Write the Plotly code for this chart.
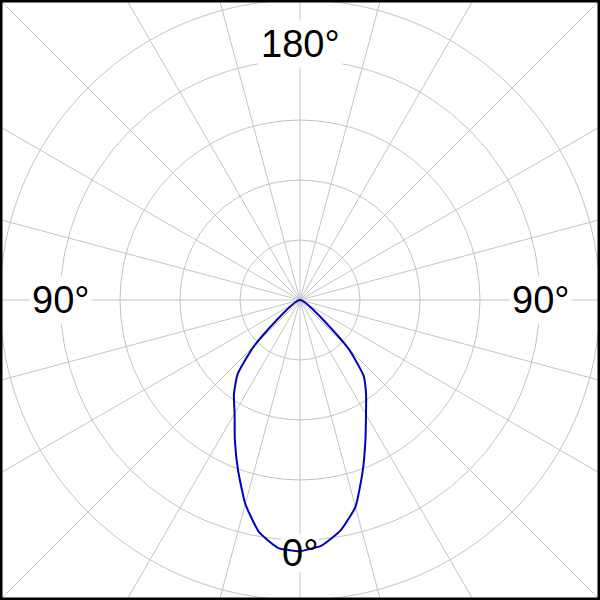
import math
import plotly.graph_objects as go

# Luminous intensity distribution (cd/klm)
gamma_deg = [0, 5, 10, 15, 20, 25, 30, 35, 40, 45, 50]
c0_plane = [419, 411, 390, 357, 305, 258, 220, 192, 165, 113, 0]     # right half
c180_plane = [419, 415, 393, 352, 302, 257, 218, 192, 162, 108, 0]   # left half

radial_grid = [100, 200, 300, 400]
radial_max = 500
angle_step = 15

label_0 = ("0°", 422)

GRID = "#c4c4c4"
FONT = "Liberation Sans, Arial, sans-serif"

theta = [360 - g for g in reversed(gamma_deg)] + gamma_deg
r = list(reversed(c180_plane)) + c0_plane

fig = go.Figure()

# white patch behind the "0°" label (drawn under the curve)
fig.add_trace(go.Scatterpolar(
    r=[label_0[1]], theta=[0], mode="markers",
    marker=dict(symbol="square", size=38, color="white", line=dict(width=0)),
    hoverinfo="skip", showlegend=False))

fig.add_trace(go.Scatterpolar(
    r=r, theta=theta, mode="lines",
    line=dict(color="#0000C0", width=2, shape="spline", smoothing=0.45),
    showlegend=False))

fig.update_layout(
    width=600, height=600,
    margin=dict(l=0, r=0, t=0, b=0),
    paper_bgcolor="white",
    polar=dict(
        domain=dict(x=[0, 1], y=[0, 1]),
        bgcolor="rgba(0,0,0,0)",
        radialaxis=dict(range=[0, radial_max], tickvals=radial_grid,
                        showticklabels=False, ticks="", showline=False,
                        gridcolor=GRID, gridwidth=1),
        angularaxis=dict(rotation=270, direction="counterclockwise",
                         dtick=angle_step, showticklabels=False, ticks="",
                         showline=True, linecolor=GRID, linewidth=1,
                         gridcolor=GRID, gridwidth=1),
    ),
)

# radial grid lines continuing from the outer circle to the frame
shapes = []
for a in range(0, 360, angle_step):
    ca, sa = math.cos(math.radians(a)), math.sin(math.radians(a))
    shapes.append(dict(type="line", xref="paper", yref="paper", layer="below",
                       x0=0.5 + 0.5 * ca, y0=0.5 + 0.5 * sa,
                       x1=0.5 + 0.75 * ca, y1=0.5 + 0.75 * sa,
                       line=dict(color=GRID, width=1)))
shapes.append(dict(type="rect", xref="paper", yref="paper", x0=0, y0=0, x1=1, y1=1,
                   line=dict(color="black", width=5), layer="above"))
fig.update_layout(shapes=shapes)

labels = [("180°", 0.5, 1 - 44 / 600, True),
          ("90°", 60 / 600, 0.5, True),
          ("90°", 540 / 600, 0.5, True),
          ("0°", 0.5, 1 - 553 / 600, False)]
for text, x, y, bg in labels:
    fig.add_annotation(text=text, x=x, y=y, xref="paper", yref="paper",
                       showarrow=False, xanchor="center", yanchor="middle",
                       font=dict(family=FONT, size=38, color="black"),
                       bgcolor="white" if bg else "rgba(0,0,0,0)", borderpad=2)

fig.write_html("out.html",
               config={"displayModeBar": False, "staticPlot": True},
               post_script="document.body.style.margin='0px';"
                           "document.body.style.overflow='hidden';")
